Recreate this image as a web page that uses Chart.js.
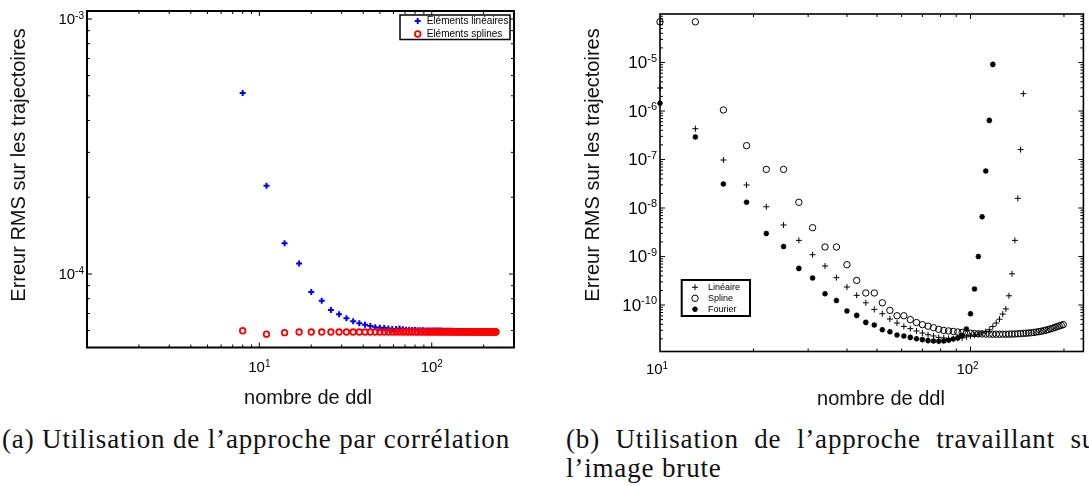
<!DOCTYPE html>
<html>
<head>
<meta charset="utf-8">
<script src="https://cdn.jsdelivr.net/npm/chart.js@4.4.1/dist/chart.umd.min.js"></script>
<style>
body { margin: 0; width: 1089px; height: 486px; overflow: hidden; background: #fff; position: relative; }
canvas { position: absolute; top: 0; }
#gauche { left: 0; }
#droite { left: 545px; }
.legende { position: absolute; font-family: 'Liberation Serif', serif; font-size: 27px; line-height: 29px; color: #111; white-space: nowrap; }
</style>
</head>
<body>
<canvas id="gauche" width="545" height="420"></canvas>
<canvas id="droite" width="544" height="420"></canvas>
<div class="legende" id="capA" style="left:2px;top:425px">(a) Utilisation de l’approche par corrélation</div>
<div class="legende" id="capB1" style="left:566px;top:425px;width:540px;text-align:justify;text-align-last:justify">(b) Utilisation de l’approche travaillant sur</div>
<div class="legende" id="capB2" style="left:566px;top:454px">l’image brute</div>

<script>
// (a) approche par corrélation
var leftDdl = [8, 11, 14, 17, 20, 23, 26, 29, 32, 35, 38, 41, 44, 47, 50, 53, 56, 59, 62, 65,
    68, 71, 74, 77, 80, 83, 86, 89, 92, 95, 98, 101, 104, 107, 110, 113, 116, 119, 122, 125,
    128, 131, 134, 137, 140, 143, 146, 149, 152, 155, 158, 161, 164, 167, 170, 173, 176, 179, 182, 185,
    188, 191, 194, 197, 200, 203, 206, 209, 212, 215, 218, 221, 224, 227, 230, 233, 236];
var leftLineaire = [5.13e-4, 2.22e-4, 1.32e-4, 1.10e-4, 8.5e-5, 7.86e-5, 7.23e-5, 6.95e-5, 6.70e-5, 6.53e-5,
    6.41e-5, 6.32e-5, 6.25e-5, 6.19e-5, 6.16e-5, 6.14e-5, 6.11e-5, 6.09e-5, 6.08e-5, 6.12e-5,
    6.07e-5, 6.05e-5, 6.04e-5, 6.03e-5, 6.03e-5, 6.02e-5, 6.02e-5, 6.02e-5, 6.01e-5, 6.01e-5,
    6.01e-5, 6.0e-5, 6.0e-5, 6.0e-5, 6.0e-5, 6.0e-5, 5.99e-5, 5.99e-5, 5.99e-5, 5.99e-5,
    5.99e-5, 5.99e-5, 5.98e-5, 5.98e-5, 5.98e-5, 5.98e-5, 5.98e-5, 5.98e-5, 5.98e-5, 5.98e-5,
    5.97e-5, 5.97e-5, 5.97e-5, 5.97e-5, 5.97e-5, 5.97e-5, 5.97e-5, 5.97e-5, 5.97e-5, 5.97e-5,
    5.97e-5, 5.96e-5, 5.96e-5, 5.96e-5, 5.96e-5, 5.96e-5, 5.96e-5, 5.96e-5, 5.96e-5, 5.96e-5,
    5.96e-5, 5.96e-5, 5.96e-5, 5.96e-5, 5.96e-5, 5.96e-5, 5.96e-5];
var leftSpline = [5.99e-5, 5.81e-5, 5.89e-5, 5.92e-5, 5.92e-5, 5.92e-5, 5.92e-5, 5.92e-5, 5.92e-5, 5.92e-5,
    5.92e-5, 5.92e-5, 5.92e-5, 5.92e-5, 5.92e-5, 5.92e-5, 5.92e-5, 5.92e-5, 5.92e-5, 5.92e-5,
    5.92e-5, 5.92e-5, 5.92e-5, 5.92e-5, 5.92e-5, 5.92e-5, 5.92e-5, 5.92e-5, 5.92e-5, 5.92e-5,
    5.92e-5, 5.92e-5, 5.92e-5, 5.92e-5, 5.92e-5, 5.92e-5, 5.92e-5, 5.92e-5, 5.92e-5, 5.92e-5,
    5.92e-5, 5.92e-5, 5.92e-5, 5.92e-5, 5.92e-5, 5.92e-5, 5.92e-5, 5.92e-5, 5.92e-5, 5.92e-5,
    5.92e-5, 5.92e-5, 5.92e-5, 5.92e-5, 5.92e-5, 5.92e-5, 5.92e-5, 5.92e-5, 5.92e-5, 5.92e-5,
    5.92e-5, 5.92e-5, 5.92e-5, 5.92e-5, 5.92e-5, 5.92e-5, 5.92e-5, 5.92e-5, 5.92e-5, 5.92e-5,
    5.92e-5, 5.92e-5, 5.92e-5, 5.92e-5, 5.92e-5, 5.92e-5, 5.92e-5];

// (b) approche travaillant sur l'image brute
var rightDdl = [10, 13, 16, 19, 22, 25, 28, 31, 34, 37, 40, 43, 46, 49, 52, 55, 58, 61, 64, 67,
    70, 73, 76, 79, 82, 85, 88, 91, 94, 97, 100, 103, 106, 109, 112, 115, 118, 121, 124, 127,
    130, 133, 136, 139, 142, 145, 148, 151, 154, 157, 160, 163, 166, 169, 172, 175, 178, 181, 184, 187,
    190, 193, 196, 199];
var rightLineaire = [2.98e-6, 4.31e-7, 9.77e-8, 2.98e-8, 1.06e-8, 4.46e-9, 2.15e-9, 1.09e-9, 6.37e-10, 3.66e-10,
    2.35e-10, 1.58e-10, 1.11e-10, 8.11e-11, 6.62e-11, 5.14e-11, 4.25e-11, 3.62e-11, 3.25e-11, 2.91e-11,
    2.65e-11, 2.44e-11, 2.30e-11, 2.15e-11, 2.09e-11, 2.05e-11, 2.02e-11, 2.05e-11, 2.10e-11, 2.20e-11,
    2.30e-11, 2.40e-11, 2.50e-11, 2.65e-11, 2.85e-11, 3.10e-11, 3.60e-11, 4.25e-11, 5.10e-11, 6.50e-11,
    8.30e-11, 1.55e-10, 4.40e-10, 2.15e-9, 1.58e-8, 1.60e-7, 2.28e-6];
var rightSpline = [6.9e-5, 6.9e-5, 1.05e-6, 1.93e-7, 6.25e-8, 6.25e-8, 1.31e-8, 3.93e-9, 1.57e-9, 1.57e-9,
    6.78e-10, 3.21e-10, 1.77e-10, 1.77e-10, 1.11e-10, 7.74e-11, 6.01e-11, 6.01e-11, 5.0e-11, 4.35e-11,
    3.93e-11, 3.65e-11, 3.4e-11, 3.15e-11, 3.0e-11, 2.92e-11, 2.85e-11, 2.78e-11, 2.72e-11, 2.67e-11,
    2.62e-11, 2.58e-11, 2.55e-11, 2.53e-11, 2.52e-11, 2.51e-11, 2.5e-11, 2.5e-11, 2.5e-11, 2.5e-11,
    2.5e-11, 2.51e-11, 2.52e-11, 2.53e-11, 2.55e-11, 2.57e-11, 2.6e-11, 2.62e-11, 2.65e-11, 2.68e-11,
    2.72e-11, 2.77e-11, 2.82e-11, 2.88e-11, 2.95e-11, 3.03e-11, 3.12e-11, 3.22e-11, 3.33e-11, 3.45e-11,
    3.58e-11, 3.7e-11, 3.82e-11, 3.95e-11];
var rightFourier = [1.44e-6, 2.91e-7, 3.13e-8, 1.31e-8, 2.99e-9, 1.61e-9, 5.69e-10, 3.60e-10, 1.71e-10, 1.24e-10,
    7.52e-11, 6.10e-11, 4.38e-11, 3.87e-11, 3.10e-11, 2.81e-11, 2.41e-11, 2.30e-11, 2.15e-11, 2.02e-11,
    1.93e-11, 1.84e-11, 1.81e-11, 1.79e-11, 1.81e-11, 1.87e-11, 1.99e-11, 2.10e-11, 2.35e-11, 3.20e-11,
    6.60e-11, 2.14e-10, 1.00e-9, 6.60e-9, 5.80e-8, 6.40e-7, 9.15e-6];

var leftXTicks = [10, 100];
var leftYTicks = [1e-4, 1e-3];
var rightXTicks = [10, 100];
var rightYTicks = [1e-10, 1e-9, 1e-8, 1e-7, 1e-6, 1e-5];

var SANS = '"Liberation Sans", Arial, sans-serif';


function pts(xs, ys) {
    return ys.map(function (y, i) {
        return { x: xs[i], y: y };
    });
}

// graduations log : 1..9 par décade, majeures sur les puissances de 10
function logTicks(min, max) {
    var out = [];
    for (var e = Math.floor(Math.log10(min)); e <= Math.ceil(Math.log10(max)); e++) {
        for (var k = 1; k < 10; k++) {
            var v = k * Math.pow(10, e);
            if (v > min * 1.002 && v < max * 0.998) out.push({ v: v, major: k === 1 });
        }
    }
    return out;
}

function seg(ctx, x1, y1, x2, y2) {
    ctx.beginPath();
    ctx.moveTo(x1, y1);
    ctx.lineTo(x2, y2);
    ctx.stroke();
}

// "10" + exposant, y = ligne de base
function drawPow(ctx, x, y, v, size, align) {
    var exp = String(Math.round(Math.log10(v)));
    var esz = Math.round(size * 0.66);
    ctx.font = size + 'px ' + SANS;
    var w1 = ctx.measureText('10').width;
    ctx.font = esz + 'px ' + SANS;
    var w2 = ctx.measureText(exp).width;
    var x0 = align === 'right' ? x - w1 - w2 : x - (w1 + w2) / 2;
    ctx.textAlign = 'left';
    ctx.textBaseline = 'alphabetic';
    ctx.font = size + 'px ' + SANS;
    ctx.fillText('10', x0, y);
    ctx.font = esz + 'px ' + SANS;
    ctx.fillText(exp, x0 + w1, y - size * 0.36);
}

function mark(ctx, style, r, x, y) {
    ctx.beginPath();
    if (style === 'circle') {
        ctx.arc(x, y, r, 0, Math.PI * 2);
    } else {
        ctx.moveTo(x - r, y); ctx.lineTo(x + r, y);
        ctx.moveTo(x, y - r); ctx.lineTo(x, y + r);
        if (style === 'star') {
            var d = r * Math.SQRT1_2;
            ctx.moveTo(x - d, y - d); ctx.lineTo(x + d, y + d);
            ctx.moveTo(x - d, y + d); ctx.lineTo(x + d, y - d);
        }
    }
    ctx.stroke();
}

var deco = {
    id: 'deco',
    afterDatasetsDraw: function (chart, args, o) {
        var ctx = chart.ctx, a = chart.chartArea;
        var xs = chart.scales.x, ys = chart.scales.y;
        ctx.save();
        ctx.strokeStyle = '#000';
        ctx.lineWidth = 1;
        logTicks(xs.min, xs.max).forEach(function (t) {
            var p = xs.getPixelForValue(t.v), l = t.major ? 5 : 3;
            seg(ctx, p, a.bottom, p, a.bottom - l);
            seg(ctx, p, a.top, p, a.top + l);
        });
        logTicks(ys.min, ys.max).forEach(function (t) {
            var p = ys.getPixelForValue(t.v), l = t.major ? 5 : 3;
            seg(ctx, a.left, p, a.left + l, p);
            seg(ctx, a.right, p, a.right - l, p);
        });
        ctx.lineWidth = o.frame;
        ctx.strokeRect(a.left, a.top, a.right - a.left, a.bottom - a.top);

        ctx.fillStyle = '#000';
        o.xTicks.forEach(function (v) {
            drawPow(ctx, xs.getPixelForValue(v) + o.xShift, o.xLabelY, v, o.xFont, 'center');
        });
        o.yTicks.forEach(function (v) {
            drawPow(ctx, a.left - 3, ys.getPixelForValue(v) + o.yFont * 0.33, v, o.yFont, 'right');
        });

        ctx.font = '20px ' + SANS;
        ctx.fillStyle = '#111';
        ctx.textAlign = 'center';
        ctx.textBaseline = 'alphabetic';
        ctx.fillText('nombre de ddl', o.xTitleX, o.xTitleY);
        ctx.save();
        ctx.translate(o.yTitleX, o.yTitleY);
        ctx.rotate(-Math.PI / 2);
        ctx.textBaseline = 'middle';
        ctx.fillText('Erreur RMS sur les trajectoires', 0, 0);
        ctx.restore();

        // légende encadrée
        var L = o.legend;
        ctx.fillStyle = '#fff';
        ctx.fillRect(L.x, L.y, L.w, L.h);
        ctx.lineWidth = L.border;
        ctx.strokeStyle = '#000';
        ctx.strokeRect(L.x, L.y, L.w, L.h);
        chart.data.datasets.forEach(function (ds, i) {
            var cy = L.y + L.first + i * L.step;
            ctx.strokeStyle = ds.pointBorderColor;
            ctx.lineWidth = ds.pointBorderWidth;
            mark(ctx, ds.pointStyle, ds.pointRadius, L.x + L.mark, cy);
            ctx.fillStyle = '#000';
            ctx.font = L.font + 'px ' + SANS;
            ctx.textAlign = 'left';
            ctx.textBaseline = 'middle';
            ctx.fillText(ds.label, L.x + L.text, cy);
        });
        ctx.restore();
    }
};

var gauche = new Chart(document.getElementById('gauche'), {
    type: 'scatter',
    data: {
        datasets: [
            {
                label: 'Eléments linéaires',
                data: pts(leftDdl, leftLineaire),
                pointStyle: 'cross',
                pointRadius: 3,
                pointBorderWidth: 2,
                pointBorderColor: '#0000ff',
                pointBackgroundColor: '#0000ff',
                order: 1
            }, {
                label: 'Eléments splines',
                data: pts(leftDdl, leftSpline),
                pointStyle: 'circle',
                pointRadius: 2.8,
                pointBorderWidth: 1.8,
                pointBorderColor: '#ff0000',
                pointBackgroundColor: 'rgba(0,0,0,0)',
                order: 0
            }
        ]
    },
    options: {
        responsive: false,
        animation: false,
        events: [],
        layout: { padding: { left: 87, top: 11, right: 31, bottom: 72.5 } },
        scales: {
            x: { type: 'logarithmic', min: 1, max: 300, display: false },
            y: { type: 'logarithmic', min: 5.15e-5, max: 1.075e-3, display: false }
        },
        plugins: {
            legend: { display: false },
            tooltip: { enabled: false },
            deco: {
                frame: 2,
                xTicks: leftXTicks, yTicks: leftYTicks,
                xFont: 15, yFont: 15, xShift: 0, xLabelY: 372,
                xTitleX: 308, xTitleY: 404, yTitleX: 19, yTitleY: 165,
                legend: { x: 400, y: 15, w: 110, h: 24.5, border: 1.5, first: 6, step: 13, mark: 17.7, text: 26.7, font: 10 }
            }
        }
    },
    plugins: [deco]
});

var droite = new Chart(document.getElementById('droite'), {
    type: 'scatter',
    data: {
        datasets: [
            {
                label: 'Linéaire',
                data: pts(rightDdl, rightLineaire),
                pointStyle: 'cross',
                pointRadius: 3,
                pointBorderWidth: 1,
                pointBorderColor: '#000',
                pointBackgroundColor: '#000'
            }, {
                label: 'Spline',
                data: pts(rightDdl, rightSpline),
                pointStyle: 'circle',
                pointRadius: 3.2,
                pointBorderWidth: 1,
                pointBorderColor: '#000',
                pointBackgroundColor: 'rgba(0,0,0,0)'
            }, {
                label: 'Fourier',
                data: pts(rightDdl, rightFourier),
                pointStyle: 'star',
                pointRadius: 2.8,
                pointBorderWidth: 1.6,
                pointBorderColor: '#000',
                pointBackgroundColor: '#000'
            }
        ]
    },
    options: {
        responsive: false,
        animation: false,
        events: [],
        layout: { padding: { left: 115, top: 14, right: 3, bottom: 68.5 } },
        scales: {
            x: { type: 'logarithmic', min: 10, max: 231, display: false },
            y: { type: 'logarithmic', min: 1.1e-11, max: 1e-4, display: false }
        },
        elements: { point: { radius: 3 } },
        datasets: { scatter: { clip: false } },
        plugins: {
            legend: { display: false },
            tooltip: { enabled: false },
            deco: {
                frame: 1.6,
                xTicks: rightXTicks, yTicks: rightYTicks,
                xFont: 15, yFont: 17, xShift: -3, xLabelY: 374,
                xTitleX: 336, xTitleY: 405, yTitleX: 48, yTitleY: 165,
                legend: { x: 136.7, y: 280, w: 68.3, h: 36, border: 2, first: 7.3, step: 11, mark: 13.3, text: 26.3, font: 9 }
            }
        }
    },
    plugins: [deco]
});

// légendes (a) et (b) : même chasse que le texte LaTeX
var capA = document.getElementById('capA');
var ls = (508 - capA.getBoundingClientRect().width) / capA.textContent.length;
['capA', 'capB1', 'capB2'].forEach(function (id) {
    document.getElementById(id).style.letterSpacing = ls + 'px';
});
</script>
</body>
</html>
